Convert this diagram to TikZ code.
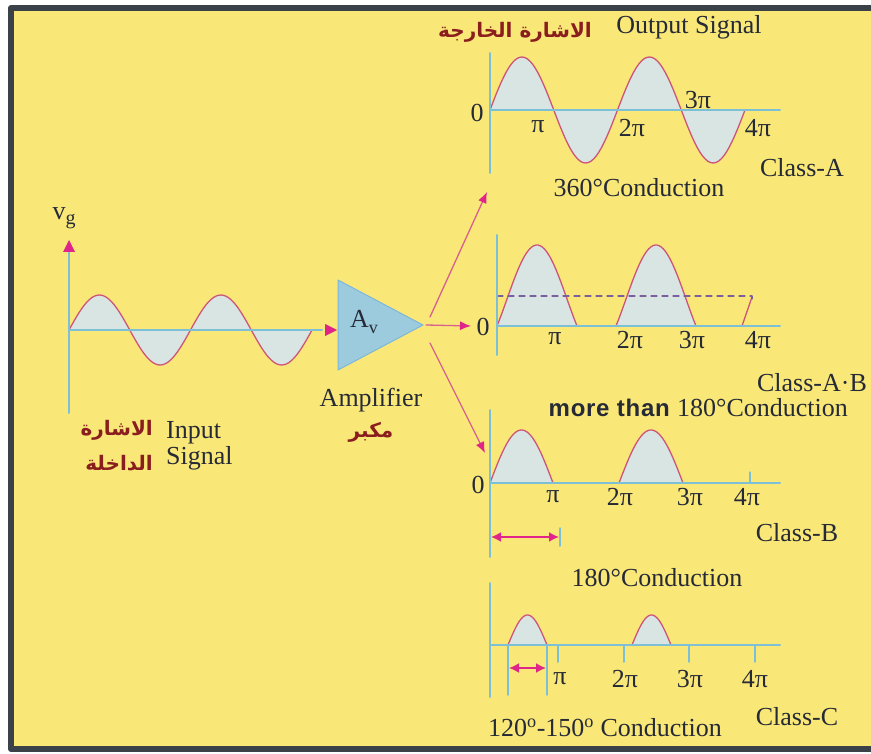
\documentclass[tikz,border=0pt]{standalone}
\usepackage{fontspec}
\setmainfont{Liberation Serif}
\newfontfamily\labelsans[LetterSpace=3]{Liberation Sans}
\newfontfamily\arabicfont[Script=Arabic]{DejaVu Sans}
\TeXXeTstate=1
\usetikzlibrary{arrows.meta}
\definecolor{PanelYellow}{HTML}{F9E878}
\definecolor{FrameGray}{HTML}{3B4148}
\definecolor{AxisBlue}{HTML}{7CC0D8}
\definecolor{WaveRed}{HTML}{CD5578}
\definecolor{WaveFill}{HTML}{D9E5E2}
\definecolor{TipPink}{HTML}{E0248A}
\definecolor{LinePink}{HTML}{D9608E}
\definecolor{AmpBlue}{HTML}{9CCBDD}
\definecolor{AmpEdge}{HTML}{7DB6DA}
\definecolor{InkDark}{HTML}{262A36}
\definecolor{ArabRed}{HTML}{8A1E1E}
\definecolor{DashPurple}{HTML}{7A5E9E}
\newcommand{\drawhump}[5]{%
  \path[draw=WaveRed,fill=WaveFill,line width=1.3pt]
    plot[domain={-#5}:{180+#5},samples=40]
    ({#1+(\x+#5)/(180+2*#5)*#2},{#3-#4*(sin(\x)+sin(#5))/(1+sin(#5))}) -- cycle;
}
\newcommand{\drawsine}[5]{%
  \path[draw=WaveRed,fill=WaveFill,line width=1.3pt]
    plot[domain=0:720,samples=97]
    ({#1+\x/720*#2},{#3-#4*sin(\x)}) -- cycle;
}
\tikzset{
  axisline/.style={draw=AxisBlue,line width=2pt},
  tipline/.style={draw=LinePink,line width=1.3pt,-{Latex[length=11pt,width=9pt,color=TipPink]}},
  spanline/.style={draw=TipPink,line width=1.8pt,{Latex[length=10pt,width=10pt]}-{Latex[length=10pt,width=10pt]}},
  lbl/.style={font=\fontsize{26}{28}\selectfont,text=InkDark,inner sep=0pt},
  arab/.style={font=\arabicfont\bfseries\fontsize{20}{24}\selectfont,text=ArabRed,inner sep=0pt}
}
\begin{document}
\begin{tikzpicture}[x=1pt,y=-1pt,line cap=round,line join=round]
  \useasboundingbox (0,0) rectangle (871,754);
  \path[fill=white] (0,0) rectangle (871,754);
  \path[fill=PanelYellow] (11,8) rectangle (871,749);
  \draw[FrameGray,line width=6pt,line cap=butt] (871,8) -- (11,8) -- (11,749) -- (871,749);

  % input signal
  \drawsine{69}{243}{330}{35}{0}
  \draw[axisline] (69,413) -- (69,246);
  \path[fill=TipPink] (63,252) -- (69,240) -- (75,252) -- cycle;
  \node[lbl] (vg) at (64,218) {v\raisebox{-0.45ex}{\fontsize{20}{20}\selectfont g}};
  \node[arab,anchor=east] (inar1) at (153,430) {\beginR الاشارة\endR};
  \node[arab,anchor=east] (inar2) at (153,463) {\beginR الداخلة\endR};
  \node[lbl,anchor=west] (intext1) at (166,433) {Input};
  \node[lbl,anchor=west] (intext2) at (166,458) {Signal};

  % amplifier
  \path[fill=AmpBlue,draw=AmpEdge,line width=1pt] (338,280) -- (423,325) -- (338,370) -- cycle;
  \coordinate (ampin) at (337,330);
  \coordinate (ampout) at (426,325);
  \coordinate (ampoutA) at (430,317);
  \coordinate (ampoutB) at (430,343);
  \node[lbl] (av) at (364,322) {A\raisebox{-0.45ex}{\fontsize{18}{18}\selectfont v}};
  \node[lbl] (amptext) at (371,400) {Amplifier};
  \node[arab] (amparab) at (371,432) {\beginR مكبر\endR};
  \coordinate (inend) at (69,330);
  \draw[axisline] (inend) -- (322,330);
  \path[fill=TipPink] (325,324) -- (ampin) -- (325,336) -- cycle;

  % class A
  \drawsine{490}{255}{110}{53}{0}
  \draw[axisline] (490,53) -- (490,173);
  \draw[axisline] (490,110) -- (780,110);
  \coordinate (enterA) at (487,192);
  \node[arab] (outar) at (515,32) {\beginR الاشارة الخارجة\endR};
  \node[lbl] (outtext) at (689,27) {Output Signal};
  \node[lbl] (a0) at (477,113) {0};
  \node[lbl] (api1) at (538,127) {π};
  \node[lbl] (api2) at (632,128) {2π};
  \node[lbl] (api3) at (698,100) {3π};
  \node[lbl] (api4) at (758,128) {4π};
  \node[lbl] (aname) at (802,168) {Class-A};
  \node[lbl] (acond) at (639,188) {360°Conduction};

  % class AB
  \drawhump{497}{80}{326}{81}{30}
  \drawhump{616}{80}{326}{81}{30}
  \draw[WaveRed,line width=1.3pt] (742,326) -- (752,297);
  \draw[DashPurple,line width=1.2pt,dash pattern=on 6pt off 5pt] (497,296) -- (752,296) -- (752,299);
  \draw[axisline] (497,235) -- (497,355);
  \draw[axisline] (497,326) -- (780,326);
  \coordinate (enterAB) at (471,326);
  \node[lbl] (ab0) at (483,327) {0};
  \node[lbl] (abpi1) at (555,339) {π};
  \node[lbl] (abpi2) at (630,340) {2π};
  \node[lbl] (abpi3) at (692,340) {3π};
  \node[lbl] (abpi4) at (758,340) {4π};
  \node[lbl] (abname) at (812,383) {Class-A·B};
  \node[lbl,anchor=east] (abmore) at (670,408) {\labelsans\bfseries\fontsize{24}{26}\selectfont more than};
  \node[lbl,anchor=west] (abcond) at (677,408) {180°Conduction};

  % class B
  \drawhump{490}{63}{483}{53}{0}
  \drawhump{619}{64}{483}{53}{0}
  \draw[axisline] (490,410) -- (490,557);
  \draw[axisline] (490,483) -- (780,483);
  \draw[axisline,line width=1.3pt] (750,472) -- (750,483);
  \draw[axisline,line width=1.5pt] (560,528) -- (560,546);
  \coordinate (enterB) at (485,453);
  \coordinate (spanBl) at (491,537);
  \coordinate (spanBr) at (559,537);
  \draw[spanline] (spanBl) -- (spanBr);
  \node[lbl] (b0) at (478,485) {0};
  \node[lbl] (bpi1) at (553,497) {π};
  \node[lbl] (bpi2) at (620,497) {2π};
  \node[lbl] (bpi3) at (690,497) {3π};
  \node[lbl] (bpi4) at (747,497) {4π};
  \node[lbl] (bname) at (797,533) {Class-B};
  \node[lbl] (bcond) at (657,578) {180°Conduction};

  % class C
  \drawhump{508}{39}{645}{30}{0}
  \drawhump{632}{39}{645}{30}{0}
  \draw[axisline] (490,583) -- (490,697);
  \draw[axisline] (490,645) -- (780,645);
  \foreach \t in {558,624,689,755}{
    \draw[axisline,line width=1.5pt] (\t,645) -- (\t,662);
  }
  \draw[axisline,line width=1.5pt] (508,645) -- (508,695);
  \draw[axisline,line width=1.5pt] (547,645) -- (547,695);
  \coordinate (spanCl) at (509,668);
  \coordinate (spanCr) at (546,668);
  \draw[spanline] (spanCl) -- (spanCr);
  \node[lbl] (cpi1) at (560,679) {π};
  \node[lbl] (cpi2) at (625,679) {2π};
  \node[lbl] (cpi3) at (690,679) {3π};
  \node[lbl] (cpi4) at (755,679) {4π};
  \node[lbl] (cname) at (797,717) {Class-C};
  \node[lbl,anchor=west] (ccond) at (488,728) {120\textsuperscript{o}-150\textsuperscript{o} Conduction};

  % amplifier outputs
  \draw[tipline] (ampoutA) -- (enterA);
  \draw[tipline] (ampout) -- (enterAB);
  \draw[tipline] (ampoutB) -- (enterB);
\end{tikzpicture}
\end{document}
